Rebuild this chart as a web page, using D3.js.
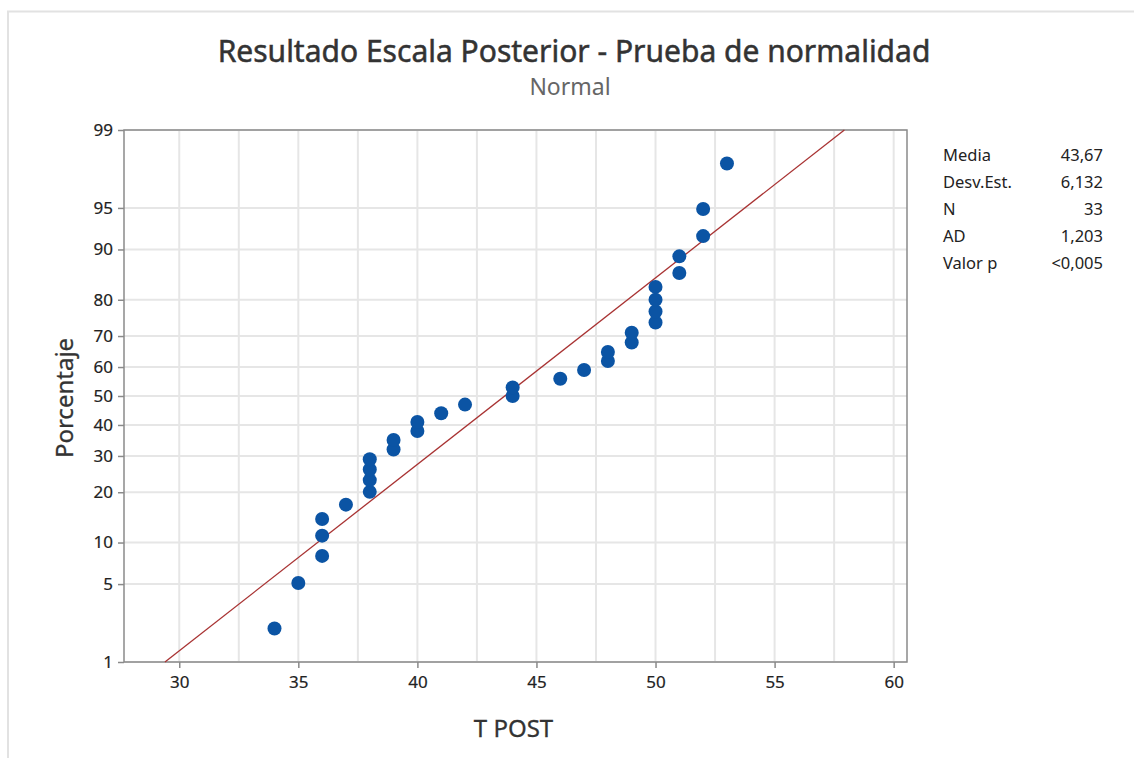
<!DOCTYPE html>
<html>
<head>
<meta charset="utf-8">
<script src="https://cdn.jsdelivr.net/npm/d3@7"></script>
<style>
  body { margin: 0; background: #fff; font-family: "Noto Sans", "Open Sans", sans-serif; }
  .tick text { fill: #222; font-size: 17px; }
</style>
</head>
<body>
<div id="chart-area"></div>
<script>
// data
var tpost = [34, 35, 36, 36, 36, 37, 38, 38, 38, 38, 39, 39, 40, 40, 41, 42, 44, 44,
             46, 47, 48, 48, 49, 49, 50, 50, 50, 50, 51, 51, 52, 52, 53];
var percent = [2.1, 5.1, 8.1, 11.1, 14.1, 17.1, 20.1, 23.1, 26.0, 29.0, 32.0, 35.0, 38.0,
               41.0, 44.0, 47.0, 50.0, 53.0, 56.0, 59.0, 62.0, 65.0, 68.0, 71.0, 74.0,
               77.0, 80.0, 83.0, 85.9, 88.9, 91.9, 94.9, 97.9];
var fitX = [29.4, 57.93];
var fitP = [1, 99];
var yTicks = [1, 5, 10, 20, 30, 40, 50, 60, 70, 80, 90, 95, 99];
var xTicks = [30, 35, 40, 45, 50, 55, 60];
var xGrid = [30, 32.5, 35, 37.5, 40, 42.5, 45, 47.5, 50, 52.5, 55, 57.5, 60];
var statLabels = ["Media", "Desv.Est.", "N", "AD", "Valor p"];
var statValues = ["43,67", "6,132", "33", "1,203", "<0,005"];

// inverse normal cdf (Acklam)
function probit(p) {
  var a = [-39.69683028665376, 220.9460984245205, -275.9285104469687, 138.3577518672690, -30.66479806614716, 2.506628277459239],
      b = [-54.47609879822406, 161.5858368580409, -155.6989798598866, 66.80131188771972, -13.28068155288572],
      c = [-0.007784894002430293, -0.3223964580411365, -2.400758277161838, -2.549732539343734, 4.374664141464968, 2.938163982698783],
      d = [0.007784695709041462, 0.3224671290700398, 2.445134137142996, 3.754408661907416];
  var q, r;
  if (p < 0.02425) {
    q = Math.sqrt(-2 * Math.log(p));
    return (((((c[0]*q+c[1])*q+c[2])*q+c[3])*q+c[4])*q+c[5]) / ((((d[0]*q+d[1])*q+d[2])*q+d[3])*q+1);
  } else if (p > 1 - 0.02425) {
    q = Math.sqrt(-2 * Math.log(1 - p));
    return -(((((c[0]*q+c[1])*q+c[2])*q+c[3])*q+c[4])*q+c[5]) / ((((d[0]*q+d[1])*q+d[2])*q+d[3])*q+1);
  }
  q = p - 0.5; r = q * q;
  return (((((a[0]*r+a[1])*r+a[2])*r+a[3])*r+a[4])*r+a[5])*q / (((((b[0]*r+b[1])*r+b[2])*r+b[3])*r+b[4])*r+1);
}

var svgWidth = 1134, svgHeight = 758;
var margin = { top: 130, left: 124 },
    width = 907 - 124,
    height = 662 - 130;

var svg = d3.select("#chart-area")
            .append("svg")
            .attr("width", svgWidth)
            .attr("height", svgHeight);

// outer light frame
svg.append("path")
   .attr("d", "M8,760 L8,11.5 L1140,11.5")
   .attr("fill", "none")
   .attr("stroke", "#e2e2e2")
   .attr("stroke-width", 2);

var g = svg.append("g")
           .attr("transform", "translate(" + margin.left + "," + margin.top + ")");

var x = d3.scaleLinear().domain([27.68, 60.56]).range([0, width]);
var zMax = probit(0.99);
var yz = d3.scaleLinear().domain([-zMax, zMax]).range([height, 0]);
var y = function(p) { return yz(probit(p / 100)); };

// grid
g.selectAll(".xgrid").data(xGrid).enter().append("line")
 .attr("x1", function(d) { return x(d); })
 .attr("x2", function(d) { return x(d); })
 .attr("y1", 0).attr("y2", height)
 .attr("stroke", "#e6e6e6").attr("stroke-width", 2);

g.selectAll(".ygrid").data(yTicks).enter().append("line")
 .attr("x1", 0).attr("x2", width)
 .attr("y1", function(d) { return y(d); })
 .attr("y2", function(d) { return y(d); })
 .attr("stroke", "#e6e6e6").attr("stroke-width", 2);

// frame
g.append("rect")
 .attr("width", width).attr("height", height)
 .attr("fill", "none").attr("stroke", "#8a8a8a").attr("stroke-width", 1.5);

// axes
var xAxisCall = d3.axisBottom(x).tickValues(xTicks).tickSize(6).tickPadding(8)
                  .tickFormat(d3.format("d"));
var yAxisCall = d3.axisLeft(yz).tickValues(yTicks.map(function(d) { return probit(d / 100); }))
                  .tickSize(6).tickPadding(5)
                  .tickFormat(function(d, i) { return yTicks[i]; });

var xAxisGroup = g.append("g").attr("transform", "translate(0," + height + ")").call(xAxisCall);
var yAxisGroup = g.append("g").call(yAxisCall);
[xAxisGroup, yAxisGroup].forEach(function(ax) {
  ax.select(".domain").remove();
  ax.selectAll(".tick line").attr("stroke", "#8a8a8a").attr("stroke-width", 1.5);
  ax.selectAll(".tick text").attr("font-family", "Noto Sans")
    .attr("stroke", "#222").attr("stroke-width", 0.2);
});

// fitted line
var line = d3.line()
             .x(function(d) { return x(d[0]); })
             .y(function(d) { return y(d[1]); });
g.append("path")
 .datum(fitX.map(function(d, i) { return [d, fitP[i]]; }))
 .attr("d", line)
 .attr("fill", "none")
 .attr("stroke", "#a83232")
 .attr("stroke-width", 1.3);

// points
g.selectAll("circle").data(tpost).enter().append("circle")
 .attr("cx", function(d) { return x(d); })
 .attr("cy", function(d, i) { return y(percent[i]); })
 .attr("r", 7)
 .attr("fill", "#0b54a4");

// titles
svg.append("text")
   .attr("x", 574).attr("y", 62)
   .attr("text-anchor", "middle")
   .attr("font-size", 30).attr("fill", "#333")
   .attr("stroke", "#333").attr("stroke-width", 0.5)
   .text("Resultado Escala Posterior - Prueba de normalidad");
svg.append("text")
   .attr("x", 570).attr("y", 95)
   .attr("text-anchor", "middle")
   .attr("font-size", 23).attr("fill", "#666")
   .text("Normal");

svg.append("text")
   .attr("x", margin.left + width / 2 - 2).attr("y", 737)
   .attr("text-anchor", "middle")
   .attr("font-size", 24).attr("fill", "#333")
   .attr("stroke", "#333").attr("stroke-width", 0.3)
   .text("T POST");
svg.append("text")
   .attr("transform", "translate(73," + 398 + ") rotate(-90)")
   .attr("text-anchor", "middle")
   .attr("font-size", 24).attr("fill", "#333")
   .attr("stroke", "#333").attr("stroke-width", 0.3)
   .text("Porcentaje");

// stats table
var stats = svg.append("g");
statLabels.forEach(function(d, i) {
  stats.append("text")
       .attr("x", 943).attr("y", 161 + i * 27)
       .attr("font-size", 16.5).attr("fill", "#222")
       .text(d);
  stats.append("text")
       .attr("x", 1103).attr("y", 161 + i * 27)
       .attr("text-anchor", "end")
       .attr("font-size", 16.5).attr("fill", "#222")
       .text(statValues[i]);
});
</script>
</body>
</html>
